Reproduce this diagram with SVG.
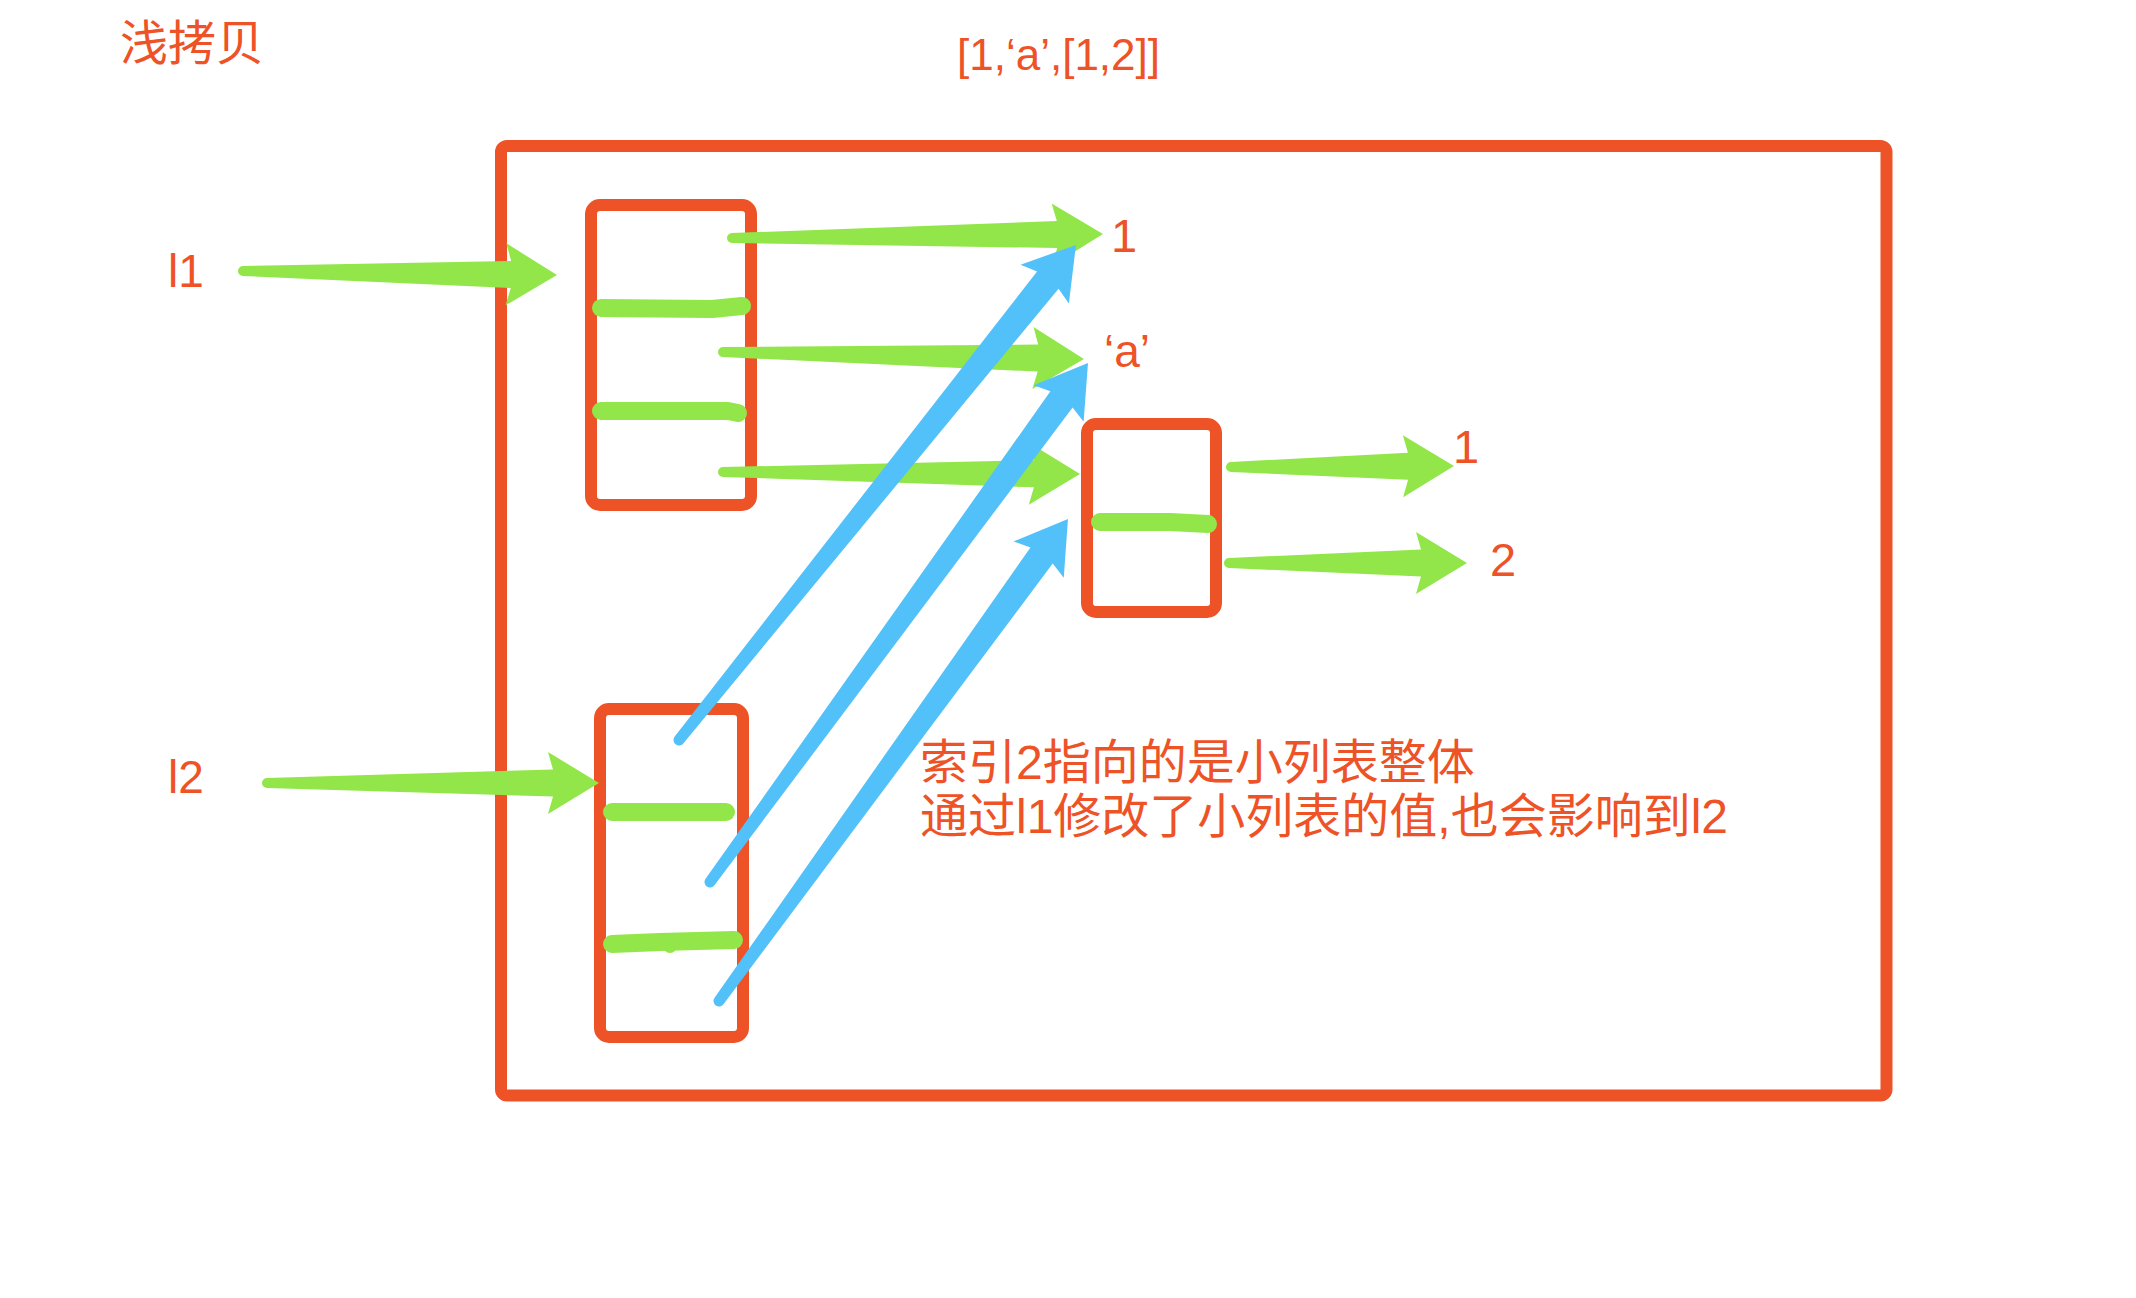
<svg xmlns="http://www.w3.org/2000/svg" width="2136" height="1298" viewBox="0 0 2136 1298">
<style>
.box{fill:none;stroke:#EE5227;stroke-width:12;stroke-linejoin:round}
.row{fill:none;stroke:#92E64A;stroke-width:18;stroke-linecap:round;stroke-linejoin:round}
.ga{fill:#92E64A}
.ba{fill:#53C1F9}
.t{fill:#EE5227;font-family:"Liberation Sans","Noto Sans CJK SC",sans-serif}
</style>
<rect width="2136" height="1298" fill="#ffffff"/>
<g id="frame"><rect class="box" x="501" y="146" width="1385.5" height="949.5" rx="6"/></g>
<g id="list-l1">
<rect class="box" x="591" y="205" width="160" height="300" rx="9"/>
<path class="row" d="M601,308 L712,309 L742,306"/>
<path class="row" d="M601,411 L728,411 L738,413"/>
</g>
<g id="list-l2">
<rect class="box" x="600" y="709" width="143" height="328" rx="9"/>
<path class="row" d="M612,812 L726,812"/>
<path class="row" d="M612,944 L660,942 L734,940"/>
<circle cx="670" cy="946" r="7" fill="#92E64A"/>
</g>
<g id="inner-list">
<rect class="box" x="1087" y="424" width="129" height="188" rx="9"/>
<path class="row" d="M1100,522 L1170,522 L1208,524"/>
</g>
<g id="connectors">
<path class="ga" transform="translate(243,271) rotate(0.73)" d="M0,-5 L268,-13.5 L263,-31 L314,0 L263,31 L268,13.5 L0,5 A5,5 0 0 1 0,-5 Z"/>
<path class="ga" transform="translate(267,783)" d="M0,-5 L286,-13.5 L281,-31 L332,0 L281,31 L286,13.5 L0,5 A5,5 0 0 1 0,-5 Z"/>
<path class="ga" transform="translate(732,238) rotate(-0.62)" d="M0,-5 L325,-13.5 L320,-31 L371,0 L320,31 L325,13.5 L0,5 A5,5 0 0 1 0,-5 Z"/>
<path class="ga" transform="translate(723,352) rotate(1.11)" d="M0,-5 L315,-13.5 L310,-31 L361,0 L310,31 L315,13.5 L0,5 A5,5 0 0 1 0,-5 Z"/>
<path class="ga" transform="translate(723,472) rotate(0.32)" d="M0,-5 L311,-13.5 L306,-31 L357,0 L306,31 L311,13.5 L0,5 A5,5 0 0 1 0,-5 Z"/>
<path class="ga" transform="translate(1231,467) rotate(-0.26)" d="M0,-5 L177,-13.5 L172,-31 L223,0 L172,31 L177,13.5 L0,5 A5,5 0 0 1 0,-5 Z"/>
<path class="ga" transform="translate(1229,563)" d="M0,-5 L192,-13.5 L187,-31 L238,0 L187,31 L192,13.5 L0,5 A5,5 0 0 1 0,-5 Z"/>
<path class="ba" transform="translate(679,740) rotate(-51.27)" d="M0,-5.5 L589.5,-13.75 L584.5,-31 L634.5,0 L584.5,31 L589.5,13.75 L0,5.5 A5.5,5.5 0 0 1 0,-5.5 Z"/>
<path class="ba" transform="translate(710,882) rotate(-53.93)" d="M0,-5.5 L597,-13.75 L592,-31 L642,0 L592,31 L597,13.75 L0,5.5 A5.5,5.5 0 0 1 0,-5.5 Z"/>
<path class="ba" transform="translate(719,1001) rotate(-54.09)" d="M0,-5.5 L550,-13.75 L545,-31 L595,0 L545,31 L550,13.75 L0,5.5 A5.5,5.5 0 0 1 0,-5.5 Z"/>
</g>
<g id="labels">
<text class="t" x="120" y="60" font-size="48">浅拷贝</text>
<text class="t" x="957" y="70" font-size="44">[1,‘a’,[1,2]]</text>
<text class="t" x="168" y="287" font-size="46">l1</text>
<text class="t" x="168" y="793" font-size="46">l2</text>
<text class="t" x="1111" y="252" font-size="47">1</text>
<text class="t" x="1104" y="367" font-size="46">‘a’</text>
<text class="t" x="1453" y="463" font-size="47">1</text>
<text class="t" x="1490" y="576" font-size="47">2</text>
<text class="t" x="920" y="779" font-size="48">索引2指向的是小列表整体</text>
<text class="t" x="920" y="833" font-size="48">通过l1修改了小列表的值,也会影响到l2</text>
</g>
</svg>
